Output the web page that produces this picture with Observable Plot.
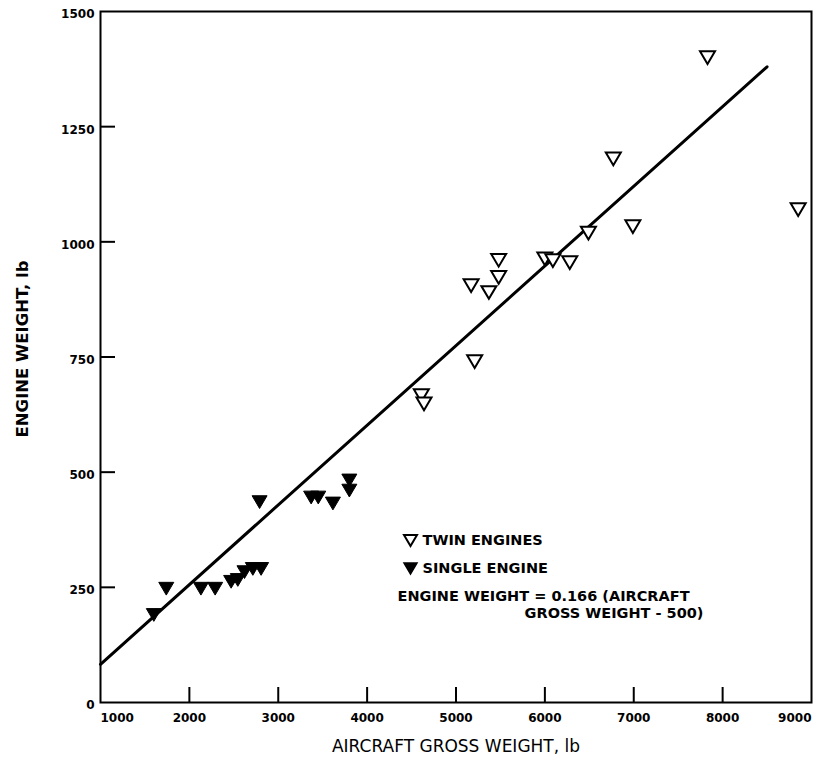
<!DOCTYPE html>
<html>
<head>
<meta charset="utf-8">
<script src="https://cdn.jsdelivr.net/npm/d3@7"></script>
<script src="https://cdn.jsdelivr.net/npm/@observablehq/plot@0.6"></script>
<style>
  html, body { margin: 0; padding: 0; background: #fff; }
</style>
</head>
<body>
<div id="chart"></div>
<script>
// ---- data ----
const twinGross  = [7830, 6770, 8850, 6990, 6490, 5480, 5480, 5170, 5370, 6000, 6090, 6280, 5210, 4610, 4640];
const twinEngine = [1400, 1180, 1070, 1033, 1019,  960,  923,  905,  890,  963,  959,  955,  740,  666,  648];

const singleGross  = [1600, 1740, 2130, 2290, 2470, 2545, 2620, 2714, 2807, 2790, 3370, 3450, 3615, 3800, 3800];
const singleEngine = [ 190,  247,  247,  247,  262,  266,  283,  290,  290,  435,  445,  445,  432,  482,  460];

const fitGross  = [1000, 8500];
const fitEngine = [83, 1380];

const xTicks = [1000, 2000, 3000, 4000, 5000, 6000, 7000, 8000, 9000];
const yTicks = [0, 250, 500, 750, 1000, 1250, 1500];

const xLabel = "AIRCRAFT GROSS WEIGHT, lb";
const yLabel = "ENGINE WEIGHT, lb";
const legendLabels = ["TWIN ENGINES", "SINGLE ENGINE"];
const equationLines = ["ENGINE WEIGHT = 0.166 (AIRCRAFT", "GROSS WEIGHT - 500)"];

// ---- tables built from the arrays ----
const twin = twinGross.map((g, i) => ({gross: g, engine: twinEngine[i]}));
const single = singleGross.map((g, i) => ({gross: g, engine: singleEngine[i]}));
const fit = fitGross.map((g, i) => ({gross: g, engine: fitEngine[i]}));

// downward-pointing triangle symbol
const downTriangle = {
  draw(ctx, size) {
    const r = Math.sqrt(size / Math.PI);
    const h = 0.85 * r;
    ctx.moveTo(-r, -h);
    ctx.lineTo(r, -h);
    ctx.lineTo(0, h);
    ctx.closePath();
  }
};

const W = 814, H = 759, ML = 100, MR = 3, MT = 11, MB = 57, TICK = 15;
const fmt = d => String(d);
const tickFont = {fontFamily: "DejaVu Sans", fontWeight: "bold", fontSize: 12, tickFormat: fmt};
const textFont = {fontFamily: "DejaVu Sans", fontWeight: "bold", fontSize: 14.5, lineAnchor: "middle"};

const chart = Plot.plot({
  width: W,
  height: H,
  marginLeft: ML,
  marginRight: MR,
  marginTop: MT,
  marginBottom: MB,
  style: {fontFamily: "DejaVu Sans", background: "#fff", color: "#000"},
  x: {domain: [1000, 9000]},
  y: {domain: [0, 1500]},
  marks: [
    // inward tick marks (short rules at the bottom and left edges of the frame)
    Plot.ruleX(xTicks.slice(1, -1), {insetTop: (H - MT - MB) - TICK, strokeWidth: 2}),
    Plot.ruleY(yTicks.slice(1, -1), {insetRight: (W - ML - MR) - TICK, strokeWidth: 2}),
    // tick labels
    Plot.axisX(xTicks.slice(1, -1), {tickSize: 0, tickPadding: 11, label: null, ...tickFont}),
    Plot.axisX([xTicks[0]], {tickSize: 0, tickPadding: 11, textAnchor: "start", label: null, ...tickFont}),
    Plot.axisX([xTicks[xTicks.length - 1]], {tickSize: 0, tickPadding: 11, textAnchor: "end", label: null, ...tickFont}),
    Plot.axisY(yTicks, {tickSize: 0, tickPadding: 6, dy: 3, label: null, ...tickFont}),
    // frame
    Plot.frame({strokeWidth: 2}),
    // regression line
    Plot.line(fit, {x: "gross", y: "engine", stroke: "#000", strokeWidth: 3}),
    // data
    Plot.dot(twin, {x: "gross", y: "engine", symbol: downTriangle, r: 7.5, fill: "#fff", stroke: "#000", strokeWidth: 2}),
    Plot.dot(single, {x: "gross", y: "engine", symbol: downTriangle, r: 7.5, fill: "#000", stroke: "#000", strokeWidth: 1}),
    // axis titles
    Plot.text([xLabel], {text: d => d, frameAnchor: "bottom", dy: 44, lineAnchor: "middle", textAnchor: "middle", fontSize: 17, fontFamily: "DejaVu Sans"}),
    Plot.text([yLabel], {text: d => d, frameAnchor: "left", dx: -78, dy: -8, rotate: -90, textAnchor: "middle", lineAnchor: "middle", fontSize: 16.5, fontWeight: "bold", fontFamily: "DejaVu Sans"}),
    // legend
    Plot.dot([legendLabels[0]], {frameAnchor: "top-left", dx: 310, dy: 529, symbol: downTriangle, r: 6.5, fill: "#fff", stroke: "#000", strokeWidth: 2}),
    Plot.dot([legendLabels[1]], {frameAnchor: "top-left", dx: 310, dy: 557, symbol: downTriangle, r: 6.5, fill: "#000", stroke: "#000"}),
    Plot.text([legendLabels[0]], {text: d => d, frameAnchor: "top-left", dx: 322, dy: 529, textAnchor: "start", ...textFont}),
    Plot.text([legendLabels[1]], {text: d => d, frameAnchor: "top-left", dx: 322, dy: 557, textAnchor: "start", ...textFont}),
    Plot.text([equationLines[0]], {text: d => d, frameAnchor: "top-left", dx: 297, dy: 585, textAnchor: "start", ...textFont}),
    Plot.text([equationLines[1]], {text: d => d, frameAnchor: "top-left", dx: 603, dy: 602, textAnchor: "end", ...textFont})
  ]
});

document.getElementById("chart").appendChild(chart);
</script>
</body>
</html>
